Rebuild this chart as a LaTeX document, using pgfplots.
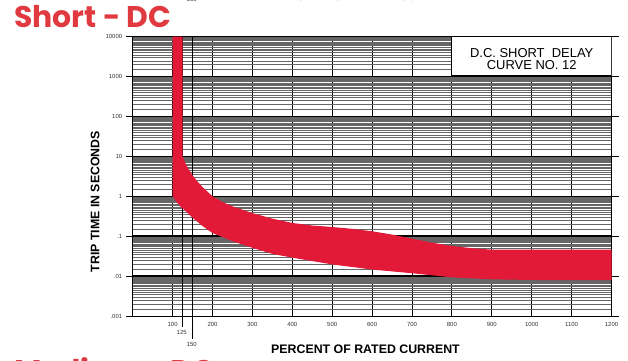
\documentclass[border=0pt]{standalone}
\usepackage{fontspec}
\setmainfont{Liberation Sans}
\newfontfamily\pop{Poppins}
\usepackage{pgfplots}
\pgfplotsset{compat=1.18}

\definecolor{band}{RGB}{226,26,56}
\definecolor{ttl}{RGB}{224,58,64}

% minor grid lines in every decade
\newcommand\dec[1]{1.5e#1,2e#1,2.5e#1,3e#1,3.5e#1,4e#1,4.5e#1,5e#1,5.5e#1,6e#1,6.5e#1,7e#1,7.5e#1,8e#1,8.5e#1,9e#1,9.5e#1}
\edef\minorlist{\dec{-3},\dec{-2},\dec{-1},\dec{0},\dec{1},\dec{2},\dec{3}}

\begin{document}
\begin{tikzpicture}[x=1bp,y=1bp]
\useasboundingbox (0,0) rectangle (628,360);

\begin{axis}[
  at={(132.7bp,44bp)}, anchor=south west,
  scale only axis, width=478.8bp, height=279.3bp,
  ymode=log,
  xmin=0, xmax=1200, ymin=0.001, ymax=10000,
  xtick={100,200,300,400,500,600,700,800,900,1000,1100,1200},
  xticklabels={100,200,300,400,500,600,700,800,900,1000,1100,1200},
  extra x ticks={125,150}, extra x tick labels={},
  ytick={0.001,0.01,0.1,1,10,100,1000,10000},
  yticklabels={.001,.01,.1,1,10,100,1000,10000},
  minor ytick/.expanded={\minorlist},
  grid=both,
  major grid style={black, line width=0.9bp},
  minor grid style={black!60, line width=0.3bp},
  tick align=outside, major tick length=7bp, minor tick length=0pt,
  xtick style={draw=none},
  ytick style={black, line width=0.8bp},
  axis line style={black, line width=1bp},
  ticklabel style={font=\fontsize{6}{6}\selectfont, text=black!80},
  xticklabel style={yshift=4bp},
]
\pgfplotsinvokeforeach{-2,-1,0,1,2,3}{
  \draw[line width=1.5bp] (axis cs:0,1e#1) -- (axis cs:1200,1e#1);
}
% trip band: upper edge left to right, then lower edge right to left
\addplot[fill=band, draw=none] coordinates {
  (125,10000) (125,10) (128,8.5) (133,6.5) (140,4.8) (150,3.4) (160,2.5)
  (175,1.7) (200,1.0) (225,0.72) (250,0.56) (300,0.38) (350,0.275)
  (400,0.215) (450,0.185) (500,0.17) (550,0.153) (600,0.133) (650,0.11)
  (700,0.087) (750,0.069) (800,0.057) (850,0.05) (900,0.046) (1000,0.046)
  (1200,0.046)
  (1200,0.0079) (1100,0.0079) (1000,0.008) (900,0.0083) (800,0.0093)
  (700,0.0118) (600,0.0146) (500,0.0196) (400,0.029) (350,0.036)
  (300,0.051) (250,0.075) (200,0.12) (175,0.18) (150,0.29) (130,0.45)
  (120,0.55) (110,0.72) (100,1.0) (100,10000)
} -- cycle;
\draw[fill=white, line width=0.9bp] (axis cs:800,1060) rectangle (axis cs:1200,10000);
\node[align=center, font=\fontsize{13}{11.7}\selectfont] at (axis cs:1000,2800)
  {D.C. SHORT\ \ DELAY\\CURVE NO. 12};
\end{axis}

% 125 / 150 leaders below the axis
\draw[line width=0.8bp] (182.7,44) -- (182.7,33.3);
\draw[line width=0.8bp] (192.7,44) -- (192.7,21);
\node[font=\fontsize{6}{6}\selectfont, text=black!80] at (181.7,27.7) {125};
\node[font=\fontsize{6}{6}\selectfont, text=black!80] at (191.7,15.3) {150};

\node[rotate=90, font=\bfseries\fontsize{12.4}{12.4}\selectfont] at (95,158.3) {TRIP TIME IN SECONDS};
\node[anchor=base, font=\bfseries\fontsize{12.4}{12.4}\selectfont] at (365.5,7) {PERCENT OF RATED CURRENT};

% headings of the page, cut by the edges
\node[anchor=base west, inner sep=0, font=\pop\bfseries\fontsize{30}{30}\selectfont, text=ttl] at (14,332.7) {Short - DC};
\node[anchor=base west, inner sep=0, font=\pop\bfseries\fontsize{30}{30}\selectfont, text=ttl] at (14,-21) {Medium - DC};
\node[anchor=base, inner sep=0, font=\bfseries\fontsize{12.4}{12.4}\selectfont] at (365.5,359.5) {PERCENT OF RATED CURRENT};
\node[anchor=base, inner sep=0, font=\fontsize{6}{6}\selectfont, text=black!80] at (191.7,359) {150};
\end{tikzpicture}
\end{document}
